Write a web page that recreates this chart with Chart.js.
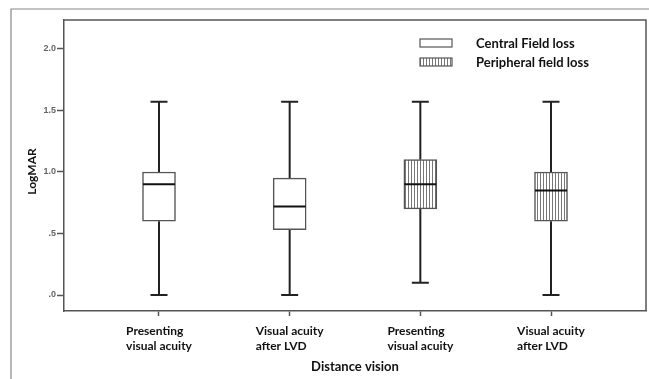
<!DOCTYPE html>
<html><head><meta charset="utf-8">
<script src="https://cdn.jsdelivr.net/npm/chart.js@4"></script>
<style>html,body{margin:0;padding:0;background:#fff}</style>
</head><body><canvas id="c" width="649" height="379"></canvas>
<script>
// ---- data ----
const categories = [["Presenting","visual acuity"],["Visual acuity","after LVD"],["Presenting","visual acuity"],["Visual acuity","after LVD"]];
const groupOf = [0, 0, 1, 1];
const legendLabels = ["Central Field loss", "Peripheral field loss"];
const whiskerLow  = [0.0, 0.0, 0.1, 0.0];
const q1          = [0.60, 0.53, 0.70, 0.60];
const median      = [0.90, 0.72, 0.90, 0.85];
const q3          = [1.00, 0.95, 1.10, 1.00];
const whiskerHigh = [1.57, 1.57, 1.57, 1.57];
const yTicks = [0, 0.5, 1.0, 1.5, 2.0];
const xTitle = "Distance vision";
const yTitle = "LogMAR";

// ---- styles ----
const FONT = "Lato";
const LINE = '#555';
function makeHatch(ctx){
  const p = document.createElement('canvas'); p.width = 3; p.height = 4;
  const g = p.getContext('2d');
  g.fillStyle = '#fff'; g.fillRect(0,0,3,4);
  g.fillStyle = '#777'; g.fillRect(0,0,1,4);
  return ctx.createPattern(p, 'repeat');
}
const cvs = document.getElementById('c');
const ctx0 = cvs.getContext('2d');
const hatch = makeHatch(ctx0);
const fills = [ '#ffffff', hatch ];

function fmt(v){ let s = Number(v).toFixed(1); if (s.startsWith('0')) s = s.slice(1); return s; }

const boxPlugin = {
  id: 'boxextras',
  beforeDraw(chart){
    const c = chart.ctx;
    c.save();
    c.fillStyle = '#fff'; c.fillRect(0,0,chart.width,chart.height);
    c.strokeStyle = '#888'; c.lineWidth = 1.2;
    c.beginPath(); c.moveTo(11, chart.height); c.lineTo(11, 9); c.lineTo(chart.width, 9); c.stroke();
    c.restore();
  },
  beforeDatasetsDraw(chart){
    const c = chart.ctx, xs = chart.scales.x, ys = chart.scales.y;
    c.save();
    c.strokeStyle = '#222'; c.lineWidth = 2;
    for (let i = 0; i < categories.length; i++){
      const x = xs.getPixelForValue(i+1);
      const yl = ys.getPixelForValue(whiskerLow[i]), yq1 = ys.getPixelForValue(q1[i]);
      const yq3 = ys.getPixelForValue(q3[i]), yh = ys.getPixelForValue(whiskerHigh[i]);
      c.beginPath();
      c.moveTo(x, yq1); c.lineTo(x, yl);
      c.moveTo(x, yq3); c.lineTo(x, yh);
      c.moveTo(x-8.5, yl); c.lineTo(x+8.5, yl);
      c.moveTo(x-8.5, yh); c.lineTo(x+8.5, yh);
      c.stroke();
    }
    c.restore();
  },
  afterDatasetsDraw(chart){
    const c = chart.ctx, xs = chart.scales.x, ys = chart.scales.y, a = chart.chartArea;
    c.save();
    c.strokeStyle = '#111'; c.lineWidth = 2;
    for (let i = 0; i < categories.length; i++){
      const x = xs.getPixelForValue(i+1), ym = ys.getPixelForValue(median[i]);
      c.beginPath(); c.moveTo(x-16, ym); c.lineTo(x+16, ym); c.stroke();
    }
    // plot frame top/right
    c.strokeStyle = LINE; c.lineWidth = 1.5;
    c.beginPath(); c.moveTo(a.left, a.top); c.lineTo(a.right, a.top); c.lineTo(a.right, a.bottom); c.stroke();
    // legend
    c.font = `bold 13px ${FONT}`; c.textBaseline = 'middle'; c.textAlign = 'left'; c.fillStyle = '#111';
    const lx = a.right - 226, ly = a.top + 19;
    legendLabels.forEach((lab, k) => {
      const y = ly + k*19;
      c.fillStyle = fills[k]; c.fillRect(lx, y, 32, 8);
      c.strokeStyle = LINE; c.lineWidth = 1.2; c.strokeRect(lx, y, 32, 8);
      c.fillStyle = '#111'; c.fillText(lab, lx + 56, y + 4.5);
    });
    // x tick labels
    c.font = `bold 12px ${FONT}`; c.fillStyle = '#111';
    categories.forEach((lines, i) => {
      const x = xs.getPixelForValue(i+1);
      const w = Math.max(...lines.map(t => c.measureText(t).width));
      lines.forEach((t, j) => c.fillText(t, x - w/2, a.bottom + 20.5 + j*14.5));
    });
    // axis titles
    c.font = `bold 13px ${FONT}`; c.textAlign = 'center';
    c.fillText(xTitle, (a.left + a.right)/2, a.bottom + 56);
    c.save(); c.translate(32, (a.top + a.bottom)/2 + 6); c.rotate(-Math.PI/2);
    c.font = `bold 12px ${FONT}`; c.fillText(yTitle, 0, 0); c.restore();
    c.restore();
  }
};

new Chart(cvs, {
  type: 'bar',
  data: {
    datasets: [{
      data: categories.map((c, i) => ({ x: i+1, y: [q1[i], q3[i]] })),
      backgroundColor: categories.map((c, i) => fills[groupOf[i]]),
      borderColor: LINE, borderWidth: 1.5, borderSkipped: false,
      barThickness: 33
    }]
  },
  options: {
    responsive: false, animation: false, devicePixelRatio: 1,
    layout: { padding: { top: 20, right: 3, left: 0, bottom: 0 } },
    plugins: { legend: { display: false }, tooltip: { enabled: false } },
    scales: {
      x: {
        type: 'linear', min: 0.273, max: 4.727, offset: false,
        afterBuildTicks: s => { s.ticks = categories.map((c, i) => ({ value: i+1 })); },
        ticks: { display: false },
        grid: { offset: false, drawOnChartArea: false, drawTicks: true, tickLength: 5, tickColor: LINE, tickWidth: 1.5 },
        border: { color: LINE, width: 1.5 },
        afterFit: s => { s.height = 68; }
      },
      y: {
        min: -0.13, max: 2.235,
        afterBuildTicks: s => { s.ticks = yTicks.map(v => ({ value: v })); },
        ticks: { callback: v => fmt(v), font: { family: 'Liberation Sans', size: 9, weight: 'bold' }, color: '#666', padding: 1 },
        grid: { offset: false, drawOnChartArea: false, drawTicks: true, tickLength: 7, tickColor: LINE, tickWidth: 1.5 },
        border: { color: LINE, width: 1.5 },
        afterFit: s => { s.width = 64; }
      }
    }
  },
  plugins: [boxPlugin]
});
</script></body></html>
